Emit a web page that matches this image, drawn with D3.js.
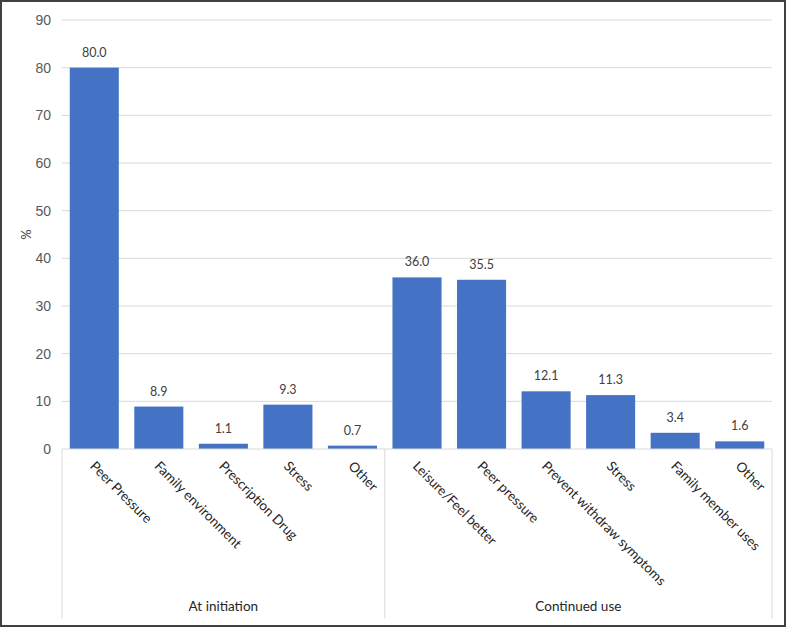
<!DOCTYPE html>
<html>
<head>
<meta charset="utf-8">
<script src="https://cdn.jsdelivr.net/npm/d3@7"></script>
<style>
  body { margin: 0; background: #fff; }
  svg { display: block; font-family: Lato, "Open Sans", sans-serif; }
</style>
</head>
<body>
<svg id="chart"></svg>
<script>
// data
const groups = ["At initiation", "Continued use"];
const categories = ["Peer Pressure", "Family environment", "Prescription Drug", "Stress", "Other",
                    "Leisure/Feel better", "Peer pressure", "Prevent withdraw symptoms", "Stress", "Family member uses", "Other"];
const categoryGroup = [0, 0, 0, 0, 0, 1, 1, 1, 1, 1, 1];
const values = [80.0, 8.9, 1.1, 9.3, 0.7, 36.0, 35.5, 12.1, 11.3, 3.4, 1.6];
const yTicks = [0, 10, 20, 30, 40, 50, 60, 70, 80, 90];

const W = 787, H = 628;
const plot = {left: 62, right: 772, top: 20, bottom: 449};

const svg = d3.select("#chart").attr("width", W).attr("height", H);

// outer frame
svg.append("rect")
    .attr("x", 1).attr("y", 1)
    .attr("width", W - 3).attr("height", H - 3)
    .attr("fill", "#fff")
    .attr("stroke", "#404040")
    .attr("stroke-width", 2);

const x = d3.scaleBand()
    .domain(d3.range(categories.length))
    .range([plot.left, plot.right])
    .paddingInner(0.24)
    .paddingOuter(0.12);

const y = d3.scaleLinear()
    .domain([0, 90])
    .range([plot.bottom, plot.top]);

// gridlines
svg.append("g")
    .selectAll("line")
    .data(yTicks.filter(d => d > 0))
    .enter().append("line")
    .attr("x1", plot.left).attr("x2", plot.right)
    .attr("y1", d => y(d)).attr("y2", d => y(d))
    .attr("stroke", "#d9d9d9")
    .attr("stroke-width", 1);

// y axis labels
const yAxis = svg.append("g")
    .attr("transform", "translate(" + plot.left + ",0)")
    .call(d3.axisLeft(y).tickValues(yTicks).tickSize(0).tickPadding(11));
yAxis.select(".domain").remove();
yAxis.selectAll("text")
    .attr("fill", "#595959")
    .style("font-size", "14px");

svg.append("text")
    .attr("transform", "translate(31," + ((plot.top + plot.bottom) / 2) + ") rotate(-90)")
    .attr("text-anchor", "middle")
    .attr("fill", "#404040")
    .style("font-size", "13px")
    .text("%");

// bars
svg.append("g")
    .selectAll("rect")
    .data(values)
    .enter().append("rect")
    .attr("x", (d, i) => x(i))
    .attr("y", d => y(d))
    .attr("width", x.bandwidth())
    .attr("height", d => y(0) - y(d))
    .attr("fill", "#4472c4");

// value labels
svg.append("g")
    .selectAll("text")
    .data(values)
    .enter().append("text")
    .attr("x", (d, i) => x(i) + x.bandwidth() / 2)
    .attr("y", d => y(d) - 11)
    .attr("text-anchor", "middle")
    .attr("fill", "#404040")
    .style("font-size", "12.5px")
    .text(d => d.toFixed(1));

// x axis baseline
svg.append("line")
    .attr("x1", plot.left).attr("x2", plot.right)
    .attr("y1", y(0)).attr("y2", y(0))
    .attr("stroke", "#d9d9d9");

// category labels, rotated 45deg
const step = x.step();
svg.append("g")
    .selectAll("text")
    .data(categories)
    .enter().append("text")
    .attr("transform", (d, i) => "translate(" + (x(i) + x.bandwidth() / 2 - 5) + "," + (y(0) + 18) + ") rotate(45)")
    .attr("text-anchor", "start")
    .attr("fill", "#262626")
    .style("font-size", "13.5px")
    .text(d => d);

// group separators and labels
const groupBounds = groups.map((g, gi) => {
    const idx = d3.range(categories.length).filter(i => categoryGroup[i] === gi);
    return {
        name: g,
        x0: x(idx[0]) - step * x.paddingInner() / 2,
        x1: x(idx[idx.length - 1]) + x.bandwidth() + step * x.paddingInner() / 2
    };
});
groupBounds[0].x0 = plot.left;
groupBounds[groupBounds.length - 1].x1 = plot.right;

const sepX = [plot.left].concat(groupBounds.map(b => b.x1));
svg.append("g")
    .selectAll("line")
    .data(sepX)
    .enter().append("line")
    .attr("x1", d => d).attr("x2", d => d)
    .attr("y1", y(0)).attr("y2", 618)
    .attr("stroke", "#d9d9d9");

svg.append("g")
    .selectAll("text")
    .data(groupBounds)
    .enter().append("text")
    .attr("x", d => (d.x0 + d.x1) / 2)
    .attr("y", 611)
    .attr("text-anchor", "middle")
    .attr("fill", "#262626")
    .style("font-size", "13.5px")
    .text(d => d.name);
</script>
</body>
</html>
